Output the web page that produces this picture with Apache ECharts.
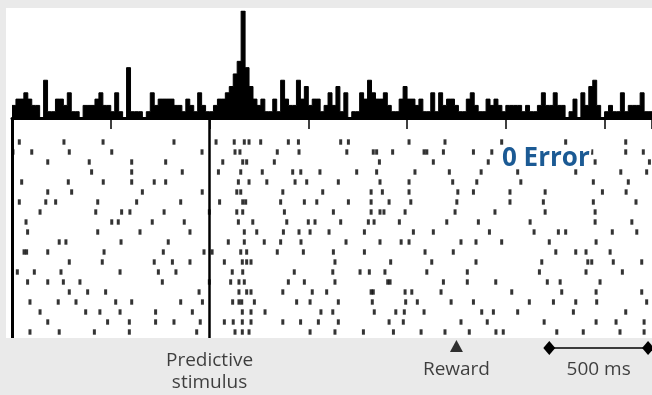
<!DOCTYPE html>
<html>
<head>
<meta charset="utf-8">
<script src="https://cdn.jsdelivr.net/npm/echarts@6/dist/echarts.min.js"></script>
<style>
  html, body { margin: 0; padding: 0; background: #eaeaea; }
  #chart { width: 652px; height: 395px; }
</style>
</head>
<body>
<div id="chart"></div>
<script>
// time axis in ms, stimulus at 0
const timeMin = -1000;
const timeMax = 2240;
const binWidth = 20;
const stimulusTime = 0;
const rewardTime = 1250;
const scaleBar = [1720, 2220];

// PSTH, spike counts per 20 ms bin starting at timeMin
const histCounts = [
  2, 3, 3, 4, 3, 2, 2, 0, 6, 1,
  1, 3, 3, 2, 4, 1, 1, 0, 2, 2,
  2, 3, 4, 2, 2, 1, 4, 1, 0, 8,
  1, 1, 1, 0, 1, 4, 2, 3, 3, 3,
  3, 2, 2, 1, 3, 2, 1, 4, 2, 1,
  1, 2, 3, 3, 4, 5, 7, 9, 17, 8,
  5, 3, 2, 3, 1, 1, 3, 1, 6, 3,
  2, 2, 6, 3, 5, 2, 3, 3, 1, 2,
  4, 2, 5, 1, 4, 0, 1, 1, 4, 3,
  6, 4, 3, 3, 4, 2, 1, 1, 3, 5,
  3, 3, 2, 3, 1, 1, 4, 1, 4, 2,
  3, 3, 2, 1, 1, 3, 4, 2, 1, 1,
  3, 2, 3, 2, 1, 2, 2, 2, 2, 1,
  2, 1, 1, 2, 4, 2, 2, 4, 2, 2,
  0, 1, 3, 0, 4, 2, 5, 6, 2, 0,
  1, 2, 1, 1, 4, 1, 2, 2, 2, 4,
  1, 1
];

// raster, spike times (ms) for each trial, top to bottom
const trials = [
  [-963, -737, -539, -180, 33, 125, 176, 200, 259, 399, 450, 664, 703, 1010, 1192, 1479, 1803, 2107],
  [-995, -900, -710, -495, -38, 129, 154, 343, 453, 695, 829, 846, 927, 1086, 1100, 1184, 1336, 1429, 1935, 2107, 2196],
  [-819, -609, -394, -222, 67, 168, 188, 328, 860, 1133, 1411, 1952, 2227],
  [-597, -394, -138, 45, 158, 267, 421, 462, 559, 745, 846, 1040, 1214, 1375, 1560, 1854, 2082, 2213],
  [-951, -715, -538, -394, -280, -222, 146, 200, 290, 433, 492, 652, 863, 1010, 1231, 1353, 1576, 1943, 2120],
  [-819, -698, -340, -37, 138, 158, 371, 573, 818, 875, 1010, 1257, 1336, 1521, 1699, 1989, 2109],
  [-963, -829, -779, -566, -369, -146, 51, 168, 183, 360, 480, 543, 703, 818, 909, 1019, 1252, 1521, 1690, 1943, 2159],
  [-858, -576, -445, -403, -230, -1, 138, 168, 379, 627, 818, 863, 883, 990, 1243, 1445, 1699, 1952],
  [-929, -495, -462, -290, -128, 146, 219, 391, 500, 534, 664, 804, 833, 961, 1201, 1361, 1623, 1952, 2138],
  [-921, -566, -352, -99, 176, 239, 374, 453, 509, 605, 784, 1032, 1133, 1417, 1643, 1766, 1803, 2039, 2163],
  [-761, -727, -448, -209, 95, 176, 277, 360, 463, 691, 863, 970, 1010, 1273, 1349, 1479, 1720, 1957],
  [-939, -926, -819, -534, -234, -28, 13, 158, 188, 343, 475, 627, 784, 1091, 1234, 1753, 1854, 1906, 2028],
  [-710, -543, -280, -188, -99, 75, 166, 188, 210, 635, 917, 1125, 1349, 1682, 1915, 1935, 2044, 2188],
  [-973, -887, -752, -453, -259, -170, 115, 168, 429, 624, 762, 809, 888, 1100, 1305, 1670, 1906, 2090],
  [-921, -819, -740, -656, -239, -1, 107, 149, 176, 399, 480, 635, 902, 914, 1184, 1305, 1449, 1710, 1775, 1977],
  [-710, -617, -526, -53, 149, 188, 210, 371, 520, 593, 818, 829, 990, 1024, 1172, 1530, 1783, 1957, 2188],
  [-909, -766, -676, -475, -394, -146, -36, 117, 149, 163, 227, 441, 509, 652, 824, 993, 1052, 1223, 1336, 1619, 1741, 1854, 1960, 2213],
  [-858, -627, -555, -453, -273, -87, 166, 210, 281, 564, 624, 834, 943, 986, 1086, 1378, 1437, 1560, 1842, 2107],
  [-819, -516, -406, -273, -180, -47, 75, 120, 166, 210, 371, 461, 551, 652, 909, 981, 1273, 1406, 1694, 1957, 2058, 2200],
  [-909, -761, -583, -406, -65, 129, 166, 200, 509, 635, 779, 931, 1071, 1192, 1315, 1450, 1487, 1758, 1892, 2078, 2200]
];

const labelFont = '"Open Sans", "Noto Sans", sans-serif';

const histData = histCounts.map((c, i) => [timeMin + i * binWidth, c]);
histData.push([timeMin + histCounts.length * binWidth, histCounts[histCounts.length - 1]]);

const rasterData = [];
trials.forEach((spikes, k) => {
  spikes.forEach(t => rasterData.push([t, k + 1]));
});

const chart = echarts.init(document.getElementById('chart'));

const option = {
  backgroundColor: '#eaeaea',
  animation: false,
  graphic: [
    {
      type: 'rect',
      z: -10,
      shape: { x: 6, y: 8, width: 646, height: 330 },
      style: { fill: '#ffffff' }
    },
    {
      type: 'text',
      z: 100,
      left: 500,
      top: 144,
      style: {
        text: '0 Error',
        font: 'bold 26px ' + labelFont,
        fill: '#1b5a94',
        stroke: '#ffffff',
        lineWidth: 4
      }
    }
  ],
  grid: [
    { left: 12, right: 0, top: 11, bottom: 277 },
    { left: 12, right: 0, top: 118, bottom: 57 },
    { left: 12, right: 0, top: 338, bottom: 0 }
  ],
  xAxis: [
    {
      gridIndex: 0,
      type: 'value',
      min: timeMin,
      max: timeMax,
      interval: 500,
      axisLine: { show: true, lineStyle: { color: '#000', width: 3 } },
      axisTick: { show: true, length: 11, lineStyle: { color: '#000', width: 1.5 } },
      axisLabel: { show: false },
      splitLine: { show: false }
    },
    { gridIndex: 1, type: 'value', min: timeMin, max: timeMax, show: false },
    { gridIndex: 2, type: 'value', min: timeMin, max: timeMax, show: false }
  ],
  yAxis: [
    { gridIndex: 0, type: 'value', min: 0, max: 17, show: false },
    { gridIndex: 1, type: 'value', min: -1.4, max: 20.6, inverse: true, show: false },
    { gridIndex: 2, type: 'value', min: 0, max: 57, inverse: true, show: false }
  ],
  series: [
    {
      name: 'PSTH',
      type: 'line',
      xAxisIndex: 0,
      yAxisIndex: 0,
      step: 'end',
      symbol: 'none',
      data: histData,
      lineStyle: { color: '#000', width: 1 },
      areaStyle: { color: '#000', opacity: 1 },
      z: 3
    },
    {
      name: 'Spikes',
      type: 'scatter',
      xAxisIndex: 1,
      yAxisIndex: 1,
      symbol: 'rect',
      symbolSize: [3, 5.4],
      itemStyle: { color: '#000' },
      data: rasterData,
      markLine: {
        silent: true,
        symbol: ['none', 'none'],
        label: { show: false },
        data: [
          { xAxis: timeMin, lineStyle: { color: '#000', width: 3, type: 'solid' } },
          { xAxis: stimulusTime, lineStyle: { color: '#000', width: 2.5, type: 'solid' } }
        ]
      }
    },
    {
      name: 'Scale bar',
      type: 'line',
      xAxisIndex: 2,
      yAxisIndex: 2,
      data: scaleBar.map(t => [t, 10]),
      symbol: 'diamond',
      symbolSize: [12, 14],
      itemStyle: { color: '#000' },
      lineStyle: { color: '#3a3a3a', width: 2 }
    },
    {
      name: 'Reward',
      type: 'scatter',
      xAxisIndex: 2,
      yAxisIndex: 2,
      symbol: 'triangle',
      symbolSize: [13, 12],
      itemStyle: { color: '#000' },
      data: [[rewardTime, 8]]
    },
    {
      name: 'Labels',
      type: 'scatter',
      xAxisIndex: 2,
      yAxisIndex: 2,
      symbolSize: 0,
      label: {
        show: true,
        position: 'inside',
        color: '#111',
        fontFamily: labelFont,
        fontSize: 19,
        lineHeight: 22,
        formatter: p => p.data.text
      },
      data: [
        { value: [stimulusTime, 34], text: 'Predictive\nstimulus' },
        { value: [rewardTime, 32], text: 'Reward' },
        { value: [(scaleBar[0] + scaleBar[1]) / 2, 32], text: '500 ms' }
      ]
    }
  ]
};

chart.setOption(option);
</script>
</body>
</html>
